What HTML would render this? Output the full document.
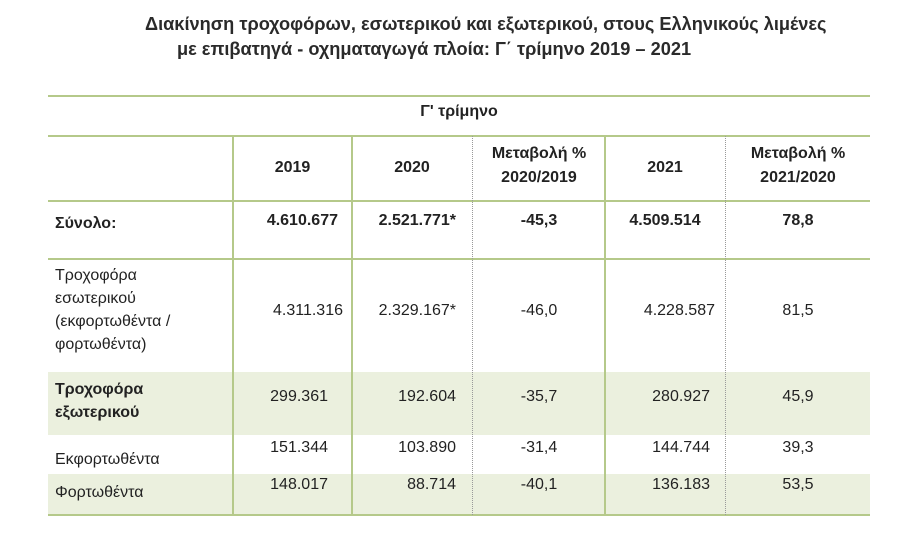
<!DOCTYPE html>
<html><head><meta charset="utf-8"><style>
body{margin:0;width:907px;height:536px;background:#fff;font-family:"Liberation Sans","DejaVu Sans",sans-serif;color:#222;position:relative;overflow:hidden}
.a{position:absolute}
.t{font-weight:bold;font-size:18.2px;color:#2a2a2a;white-space:nowrap}
.h{position:absolute;left:48px;width:822px;height:2px;background:#b5c98a}
.v{position:absolute;width:2px;background:#b5c98a}
.d{position:absolute;width:0;border-left:1px dotted #999}
.c{position:absolute;font-size:16px;text-align:center;white-space:nowrap}
.r{position:absolute;font-size:16px;text-align:right;white-space:nowrap}
.l{position:absolute;font-size:16px;line-height:23px;white-space:nowrap}
.b{font-weight:bold;font-size:16px}
.sh{position:absolute;left:48px;width:822px;background:#ebf0de}
</style></head><body>
<div class="a t" style="left:145px;top:14px">Διακίνηση τροχοφόρων, εσωτερικού και εξωτερικού, στους Ελληνικούς λιμένες</div>
<div class="a t" style="left:177px;top:39px">με επιβατηγά - οχηματαγωγά πλοία: Γ΄ τρίμηνο 2019 – 2021</div>

<div class="sh" style="top:372px;height:63px"></div>
<div class="sh" style="top:474px;height:41px"></div>

<div class="h" style="top:95px"></div>
<div class="h" style="top:135px"></div>
<div class="h" style="top:200px"></div>
<div class="h" style="top:258px"></div>
<div class="h" style="top:514px"></div>

<div class="v" style="left:232px;top:136px;height:379px"></div>
<div class="v" style="left:351px;top:136px;height:379px"></div>
<div class="d" style="left:472px;top:136px;height:379px"></div>
<div class="v" style="left:604px;top:136px;height:379px"></div>
<div class="d" style="left:725px;top:136px;height:379px"></div>

<div class="c b" style="left:48px;width:822px;top:103px">Γ' τρίμηνο</div>

<div class="c b" style="left:233px;width:119px;top:159px">2019</div>
<div class="c b" style="left:352px;width:120px;top:159px">2020</div>
<div class="c b" style="left:473px;width:132px;top:142px;line-height:24px">Μεταβολή %<br>2020/2019</div>
<div class="c b" style="left:605px;width:120px;top:159px">2021</div>
<div class="c b" style="left:726px;width:144px;top:142px;line-height:24px">Μεταβολή %<br>2021/2020</div>

<div class="l b" style="left:55px;top:212px">Σύνολο:</div>
<div class="r b" style="left:233px;width:105px;top:212px">4.610.677</div>
<div class="r b" style="left:352px;width:104px;top:212px">2.521.771*</div>
<div class="c b" style="left:473px;width:132px;top:212px">-45,3</div>
<div class="c b" style="left:605px;width:120px;top:212px">4.509.514</div>
<div class="c b" style="left:726px;width:144px;top:212px">78,8</div>

<div class="l" style="left:55px;top:264px">Τροχοφόρα<br>εσωτερικού<br>(εκφορτωθέντα /<br>φορτωθέντα)</div>
<div class="r" style="left:233px;width:110px;top:302px">4.311.316</div>
<div class="r" style="left:352px;width:104px;top:302px">2.329.167*</div>
<div class="c" style="left:473px;width:132px;top:302px">-46,0</div>
<div class="r" style="left:605px;width:110px;top:302px">4.228.587</div>
<div class="c" style="left:726px;width:144px;top:302px">81,5</div>

<div class="l b" style="left:55px;top:378px">Τροχοφόρα<br>εξωτερικού</div>
<div class="r" style="left:233px;width:95px;top:388px">299.361</div>
<div class="r" style="left:352px;width:104px;top:388px">192.604</div>
<div class="c" style="left:473px;width:132px;top:388px">-35,7</div>
<div class="r" style="left:605px;width:105px;top:388px">280.927</div>
<div class="c" style="left:726px;width:144px;top:388px">45,9</div>

<div class="l" style="left:55px;top:448px">Εκφορτωθέντα</div>
<div class="r" style="left:233px;width:95px;top:439px">151.344</div>
<div class="r" style="left:352px;width:104px;top:439px">103.890</div>
<div class="c" style="left:473px;width:132px;top:439px">-31,4</div>
<div class="r" style="left:605px;width:105px;top:439px">144.744</div>
<div class="c" style="left:726px;width:144px;top:439px">39,3</div>

<div class="l" style="left:55px;top:481px">Φορτωθέντα</div>
<div class="r" style="left:233px;width:95px;top:476px">148.017</div>
<div class="r" style="left:352px;width:104px;top:476px">88.714</div>
<div class="c" style="left:473px;width:132px;top:476px">-40,1</div>
<div class="r" style="left:605px;width:105px;top:476px">136.183</div>
<div class="c" style="left:726px;width:144px;top:476px">53,5</div>
</body></html>
